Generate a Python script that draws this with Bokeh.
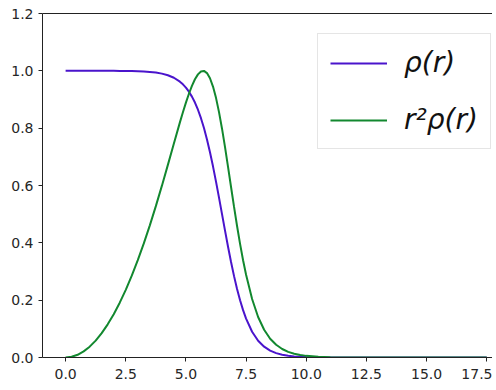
from bokeh.plotting import figure
from bokeh.models import LinearAxis, FixedTicker, Legend, LegendItem, Range1d
from bokeh.embed import file_html
from bokeh.resources import INLINE

# values
r = [0.0, 0.25, 0.5, 0.75, 1.0, 1.25, 1.5, 1.75, 2.0, 2.25, 2.5, 2.75,
     3.0, 3.25, 3.5, 3.75, 4.0, 4.25, 4.5, 4.75, 4.875, 5.0, 5.125, 5.25,
     5.375, 5.5, 5.625, 5.75, 5.875, 6.0, 6.125, 6.25, 6.375, 6.5, 6.625,
     6.75, 6.875, 7.0, 7.125, 7.25, 7.375, 7.5, 7.75, 8.0, 8.25, 8.5, 8.75,
     9.0, 9.25, 9.5, 9.75, 10.0, 10.5, 11.0, 12.0, 13.0, 14.0, 15.0,
     16.0, 17.0, 17.5]
rho = [1.000, 1.000, 1.000, 1.000, 1.000, 1.000, 1.000, 1.000, 1.000, 0.9998, 0.9994, 0.9990,
       0.9985, 0.9976, 0.9961, 0.9939, 0.9903, 0.9847, 0.9760, 0.9623, 0.9530, 0.9415, 0.9273, 0.9101,
       0.8893, 0.8643, 0.8348, 0.8004, 0.7608, 0.7162, 0.6669, 0.6137, 0.5576, 0.5000, 0.4424,
       0.3863, 0.3331, 0.2838, 0.2392, 0.1996, 0.1652, 0.1357, 0.0899, 0.0585, 0.0377, 0.0240, 0.0153,
       0.0097, 0.0061, 0.0039, 0.0024, 0.0015, 0.0006, 0.00024, 0.00004, 0.0, 0.0, 0.0,
       0.0, 0.0, 0.0]
r2rho = [0.0, 0.0024, 0.0094, 0.0213, 0.0378, 0.0590, 0.0850, 0.1157, 0.1511, 0.1912, 0.2360, 0.2854,
         0.3395, 0.3981, 0.4610, 0.5280, 0.5986, 0.6719, 0.7467, 0.8202, 0.8557, 0.8892, 0.9201, 0.9477,
         0.9706, 0.9877, 0.9979, 0.9997, 0.9921, 0.9741, 0.9452, 0.9057, 0.8561, 0.7981, 0.7336,
         0.6649, 0.5947, 0.5254, 0.4587, 0.3964, 0.3394, 0.2884, 0.2040, 0.1414, 0.0969, 0.0655, 0.0443,
         0.0297, 0.0197, 0.0133, 0.0086, 0.0057, 0.0025, 0.0011, 0.0002, 0.0, 0.0, 0.0,
         0.0, 0.0, 0.0]

x_ticks = [0.0, 2.5, 5.0, 7.5, 10.0, 12.5, 15.0, 17.5]
x_tick_labels = ["0.0", "2.5", "5.0", "7.5", "10.0", "12.5", "15.0", "17.5"]
y_ticks = [0.0, 0.2, 0.4, 0.6, 0.8, 1.0, 1.2]
y_tick_labels = ["0.0", "0.2", "0.4", "0.6", "0.8", "1.0", "1.2"]
series_labels = ["\u03c1(r)", "r\u00b2\u03c1(r)"]

FONT = "DejaVu Sans"
TXT = "#262626"

p = figure(width=492, height=386, output_backend="svg", toolbar_location=None,
           x_range=Range1d(-0.96, 17.74), y_range=Range1d(0.0, 1.2),
           min_border_left=42, min_border_right=0, min_border_top=13, min_border_bottom=29)
p.outline_line_color = None
p.xgrid.visible = False
p.ygrid.visible = False
p.background_fill_color = "white"
p.border_fill_color = "white"

l1 = p.line(r, rho, line_color="#4a14cc", line_width=2)
l2 = p.line(r, r2rho, line_color="#12882f", line_width=2)

for ax, ticks, labels, so in ((p.xaxis[0], x_ticks, x_tick_labels, 7),
                              (p.yaxis[0], y_ticks, y_tick_labels, 5)):
    ax.ticker = FixedTicker(ticks=ticks)
    ax.major_label_overrides = {t: l for t, l in zip(ticks, labels)}
    ax.major_label_text_font = FONT
    ax.major_label_text_font_size = "14px"
    ax.major_label_text_color = TXT
    ax.major_tick_out = 4
    ax.major_tick_in = 0
    ax.minor_tick_out = 0
    ax.minor_tick_in = 0
    ax.major_label_standoff = so
    ax.axis_line_color = "#222222"
    ax.major_tick_line_color = "#222222"

top = LinearAxis(ticker=FixedTicker(ticks=[]), major_tick_out=0, major_tick_in=0,
                 minor_tick_out=0, minor_tick_in=0, major_label_standoff=0,
                 axis_line_color="#222222")
p.add_layout(top, "above")

legend = Legend(items=[LegendItem(label=series_labels[0], renderers=[l1]),
                       LegendItem(label=series_labels[1], renderers=[l2])],
                location=(275, 208))
legend.label_text_font = FONT
legend.label_text_font_style = "italic"
legend.label_text_font_size = "28px"
legend.label_text_color = "#111111"
legend.glyph_width = 57
legend.glyph_height = 32
legend.label_height = 32
legend.label_standoff = 17
legend.spacing = 24
legend.padding = 12
legend.margin = 0
legend.border_line_color = "#cccccc"
legend.border_line_width = 1
legend.background_fill_alpha = 0.9
p.add_layout(legend)

open("out.html", "w").write(file_html(p, INLINE))
